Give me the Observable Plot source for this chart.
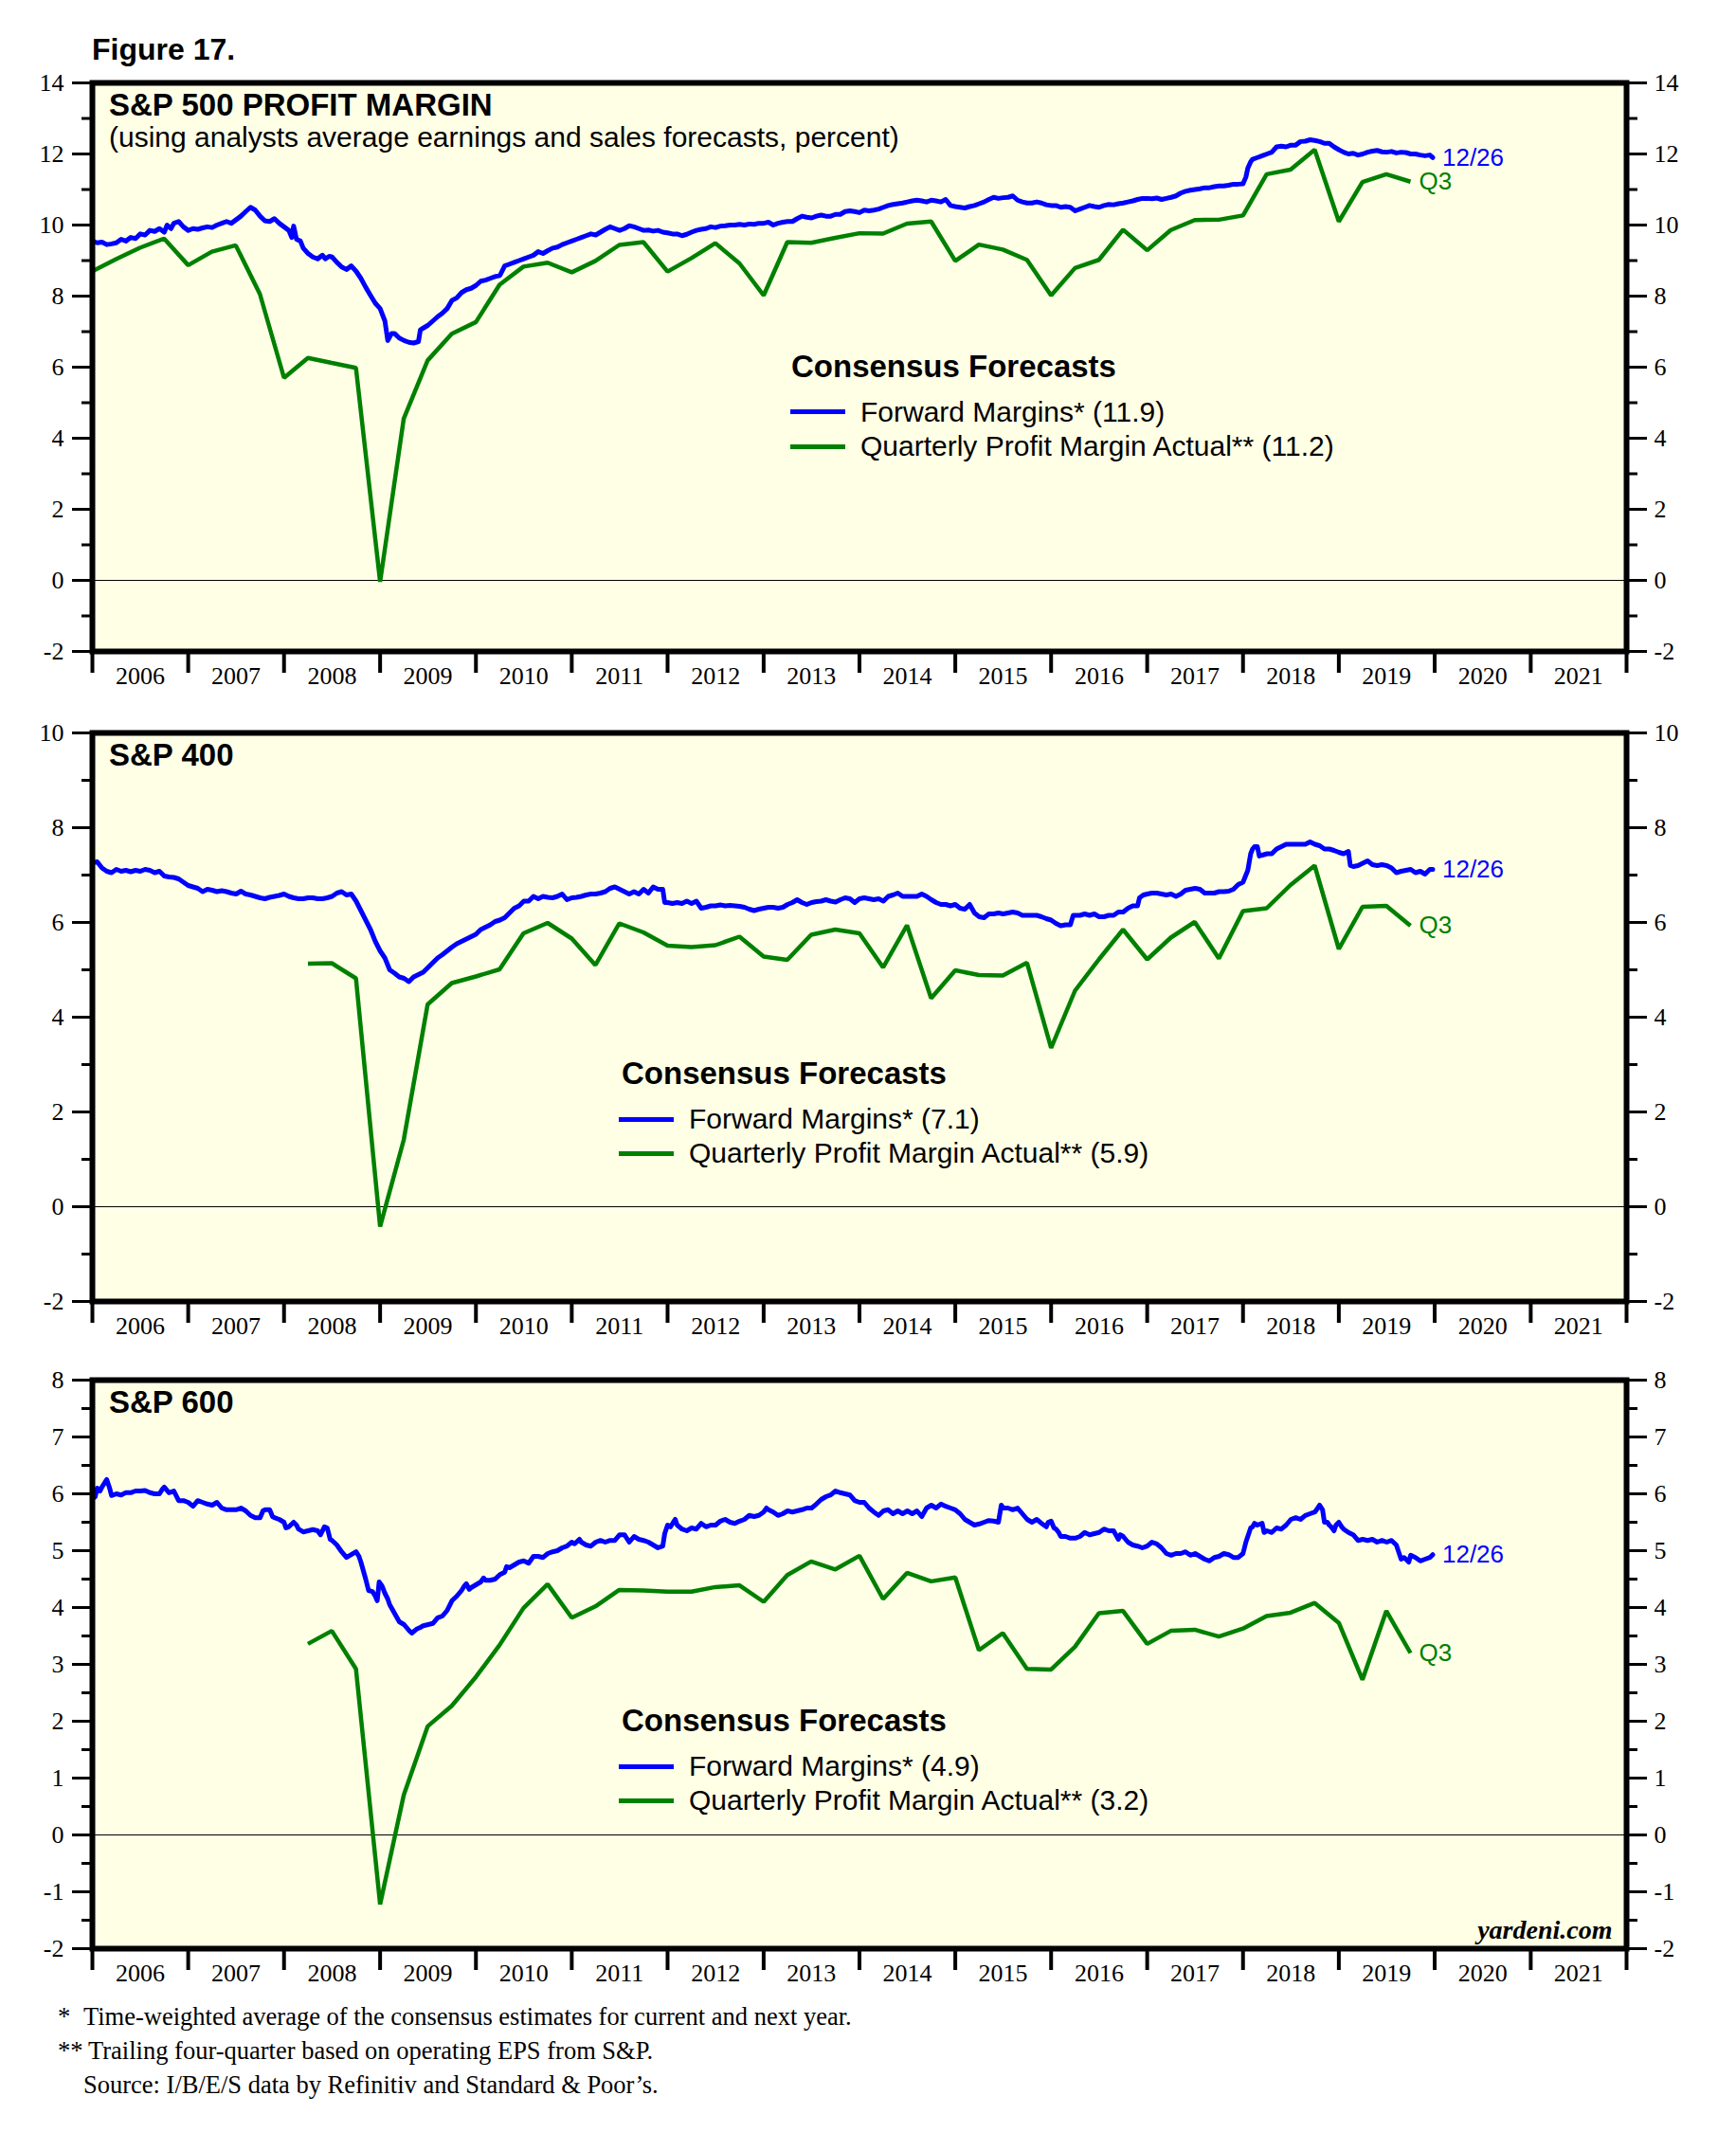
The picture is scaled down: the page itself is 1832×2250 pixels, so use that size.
<!DOCTYPE html>
<html>
<head>
<meta charset="utf-8">
<script src="https://cdn.jsdelivr.net/npm/d3@7"></script>
<script src="https://cdn.jsdelivr.net/npm/@observablehq/plot@0.6"></script>
<style>
  html, body { margin: 0; padding: 0; background: #ffffff; }
  #page { position: relative; width: 1832px; height: 2250px; background: #ffffff; overflow: hidden; }
  #page svg { position: absolute; left: 0; }
  .t { position: absolute; white-space: nowrap; color: #000; }
  .sw { position: absolute; height: 5px; }
</style>
</head>
<body>
<div id="page"></div>
<script>
// ---------------- DATA ----------------
// Forward margins (weekly, read as [decimal year, percent])
const SP500_FWD = [
[2006.0,9.55],[2006.05,9.5],[2006.1,9.52],[2006.15,9.45],[2006.2,9.47],[2006.25,9.5],[2006.3,9.6],[2006.35,9.55],[2006.4,9.65],[2006.45,9.62],
[2006.5,9.75],[2006.55,9.72],[2006.6,9.85],[2006.65,9.82],[2006.7,9.9],[2006.75,9.8],[2006.78,10.0],[2006.82,9.9],[2006.85,10.05],[2006.9,10.1],
[2006.95,9.95],[2007.0,9.85],[2007.05,9.9],[2007.1,9.88],[2007.15,9.92],[2007.2,9.95],[2007.25,9.93],[2007.3,10.0],[2007.35,10.05],[2007.4,10.1],
[2007.45,10.05],[2007.5,10.15],[2007.55,10.25],[2007.6,10.38],[2007.65,10.5],[2007.7,10.42],[2007.75,10.25],[2007.8,10.12],[2007.85,10.1],[2007.9,10.18],
[2007.95,10.05],[2008.0,9.95],[2008.05,9.85],[2008.08,9.65],[2008.1,9.97],[2008.13,9.6],[2008.17,9.55],[2008.2,9.35],[2008.25,9.2],[2008.3,9.1],
[2008.35,9.05],[2008.4,9.15],[2008.43,9.05],[2008.47,9.12],[2008.5,9.1],[2008.55,8.95],[2008.6,8.82],[2008.65,8.75],[2008.7,8.85],[2008.75,8.7],
[2008.8,8.5],[2008.85,8.25],[2008.9,8.02],[2008.95,7.8],[2009.0,7.65],[2009.05,7.3],[2009.08,6.75],[2009.12,6.95],[2009.15,6.95],[2009.2,6.82],
[2009.25,6.75],[2009.3,6.7],[2009.35,6.68],[2009.4,6.72],[2009.42,7.05],[2009.45,7.1],[2009.5,7.18],[2009.55,7.3],[2009.6,7.42],[2009.65,7.52],
[2009.7,7.65],[2009.75,7.88],[2009.8,7.95],[2009.85,8.1],[2009.9,8.18],[2009.95,8.22],[2010.0,8.3],[2010.05,8.42],[2010.1,8.45],[2010.15,8.5],
[2010.2,8.55],[2010.25,8.58],[2010.3,8.85],[2010.35,8.9],[2010.4,8.95],[2010.45,9.0],[2010.5,9.05],[2010.55,9.1],[2010.6,9.15],[2010.65,9.25],
[2010.7,9.2],[2010.75,9.28],[2010.8,9.35],[2010.85,9.38],[2010.9,9.45],[2010.95,9.5],[2011.0,9.55],[2011.05,9.6],[2011.1,9.65],[2011.15,9.7],
[2011.2,9.75],[2011.25,9.72],[2011.3,9.8],[2011.35,9.88],[2011.4,9.95],[2011.45,9.9],[2011.5,9.85],[2011.55,9.9],[2011.6,9.98],[2011.65,9.95],
[2011.7,9.9],[2011.75,9.85],[2011.8,9.86],[2011.85,9.83],[2011.9,9.85],[2011.95,9.8],[2012.0,9.78],[2012.05,9.75],[2012.1,9.75],[2012.15,9.7],
[2012.2,9.74],[2012.25,9.8],[2012.3,9.85],[2012.35,9.88],[2012.4,9.9],[2012.45,9.95],[2012.5,9.93],[2012.55,9.97],[2012.6,9.98],[2012.65,10.0],
[2012.7,10.0],[2012.75,10.02],[2012.8,10.0],[2012.85,10.03],[2012.9,10.02],[2012.95,10.05],[2013.0,10.05],[2013.05,10.08],[2013.1,10.0],[2013.15,10.05],
[2013.2,10.08],[2013.25,10.1],[2013.3,10.1],[2013.35,10.18],[2013.4,10.25],[2013.45,10.22],[2013.5,10.2],[2013.55,10.25],[2013.6,10.28],[2013.65,10.25],
[2013.7,10.25],[2013.75,10.3],[2013.8,10.3],[2013.85,10.38],[2013.9,10.4],[2013.95,10.38],[2014.0,10.35],[2014.05,10.42],[2014.1,10.4],[2014.15,10.42],
[2014.2,10.45],[2014.25,10.5],[2014.3,10.55],[2014.35,10.58],[2014.4,10.6],[2014.45,10.62],[2014.5,10.65],[2014.55,10.68],[2014.6,10.7],[2014.65,10.68],
[2014.7,10.65],[2014.75,10.7],[2014.8,10.68],[2014.85,10.65],[2014.9,10.72],[2014.95,10.55],[2015.0,10.52],[2015.05,10.5],[2015.1,10.48],[2015.15,10.52],
[2015.2,10.55],[2015.25,10.6],[2015.3,10.65],[2015.35,10.72],[2015.4,10.78],[2015.45,10.75],[2015.5,10.77],[2015.55,10.78],[2015.6,10.82],[2015.65,10.7],
[2015.7,10.65],[2015.75,10.62],[2015.8,10.62],[2015.85,10.65],[2015.9,10.62],[2015.95,10.57],[2016.0,10.55],[2016.05,10.55],[2016.1,10.5],[2016.15,10.52],
[2016.2,10.5],[2016.25,10.4],[2016.3,10.45],[2016.35,10.5],[2016.4,10.55],[2016.45,10.52],[2016.5,10.5],[2016.55,10.55],[2016.6,10.58],[2016.65,10.57],
[2016.7,10.6],[2016.75,10.62],[2016.8,10.65],[2016.85,10.68],[2016.9,10.72],[2016.95,10.75],[2017.0,10.75],[2017.05,10.74],[2017.1,10.76],[2017.15,10.72],
[2017.2,10.75],[2017.25,10.78],[2017.3,10.82],[2017.35,10.9],[2017.4,10.95],[2017.45,10.98],[2017.5,11.0],[2017.55,11.02],[2017.6,11.05],[2017.65,11.05],
[2017.7,11.08],[2017.75,11.1],[2017.8,11.1],[2017.85,11.12],[2017.9,11.15],[2017.95,11.15],[2018.0,11.16],[2018.03,11.35],[2018.05,11.6],[2018.08,11.78],
[2018.1,11.85],[2018.15,11.9],[2018.2,11.95],[2018.25,12.0],[2018.3,12.05],[2018.35,12.2],[2018.4,12.22],[2018.45,12.2],[2018.5,12.25],[2018.55,12.25],
[2018.6,12.35],[2018.65,12.36],[2018.7,12.4],[2018.75,12.38],[2018.8,12.35],[2018.85,12.3],[2018.9,12.3],[2018.95,12.2],[2019.0,12.12],[2019.05,12.05],
[2019.1,12.0],[2019.15,12.02],[2019.2,11.97],[2019.25,12.0],[2019.3,12.05],[2019.35,12.08],[2019.4,12.1],[2019.45,12.06],[2019.5,12.05],[2019.55,12.07],
[2019.6,12.03],[2019.65,12.05],[2019.7,12.04],[2019.75,12.0],[2019.8,12.0],[2019.85,11.97],[2019.9,11.95],[2019.95,11.97],[2019.98,11.9]
];
const SP400_FWD = [
[2006.0,7.26],[2006.05,7.28],[2006.1,7.15],[2006.15,7.08],[2006.2,7.05],[2006.25,7.12],[2006.3,7.08],[2006.35,7.1],[2006.4,7.07],[2006.45,7.1],
[2006.5,7.08],[2006.55,7.12],[2006.6,7.1],[2006.65,7.05],[2006.7,7.08],[2006.75,6.98],[2006.8,6.96],[2006.85,6.95],[2006.9,6.92],[2006.95,6.85],
[2007.0,6.78],[2007.05,6.75],[2007.1,6.72],[2007.15,6.65],[2007.2,6.7],[2007.25,6.68],[2007.3,6.65],[2007.35,6.67],[2007.4,6.65],[2007.45,6.62],
[2007.5,6.6],[2007.55,6.66],[2007.6,6.6],[2007.65,6.58],[2007.7,6.55],[2007.75,6.52],[2007.8,6.5],[2007.85,6.53],[2007.9,6.55],[2007.95,6.57],
[2008.0,6.6],[2008.05,6.55],[2008.1,6.52],[2008.15,6.5],[2008.2,6.5],[2008.25,6.52],[2008.3,6.52],[2008.35,6.5],[2008.4,6.5],[2008.45,6.52],
[2008.5,6.55],[2008.55,6.62],[2008.6,6.65],[2008.65,6.58],[2008.7,6.6],[2008.75,6.45],[2008.8,6.25],[2008.85,6.05],[2008.9,5.85],[2008.95,5.6],
[2009.0,5.4],[2009.05,5.25],[2009.1,5.0],[2009.15,4.93],[2009.2,4.85],[2009.25,4.82],[2009.3,4.75],[2009.35,4.85],[2009.4,4.9],[2009.45,4.95],
[2009.5,5.05],[2009.55,5.15],[2009.6,5.25],[2009.65,5.32],[2009.7,5.4],[2009.75,5.48],[2009.8,5.55],[2009.85,5.6],[2009.9,5.65],[2009.95,5.7],
[2010.0,5.75],[2010.05,5.85],[2010.1,5.9],[2010.15,5.95],[2010.2,6.02],[2010.25,6.05],[2010.3,6.1],[2010.35,6.2],[2010.4,6.3],[2010.45,6.35],
[2010.5,6.45],[2010.55,6.45],[2010.6,6.55],[2010.65,6.5],[2010.7,6.55],[2010.75,6.53],[2010.8,6.52],[2010.85,6.55],[2010.9,6.6],[2010.95,6.48],
[2011.0,6.52],[2011.05,6.53],[2011.1,6.55],[2011.15,6.58],[2011.2,6.6],[2011.25,6.6],[2011.3,6.62],[2011.35,6.65],[2011.4,6.72],[2011.45,6.75],
[2011.5,6.7],[2011.55,6.65],[2011.6,6.6],[2011.65,6.65],[2011.7,6.6],[2011.75,6.7],[2011.8,6.62],[2011.85,6.75],[2011.9,6.7],[2011.95,6.7],
[2011.97,6.42],[2012.0,6.42],[2012.05,6.4],[2012.1,6.42],[2012.15,6.4],[2012.2,6.45],[2012.25,6.4],[2012.3,6.45],[2012.35,6.3],[2012.4,6.32],
[2012.45,6.35],[2012.5,6.35],[2012.55,6.37],[2012.6,6.35],[2012.65,6.36],[2012.7,6.35],[2012.75,6.34],[2012.8,6.32],[2012.85,6.28],[2012.9,6.25],
[2012.95,6.28],[2013.0,6.3],[2013.05,6.32],[2013.1,6.32],[2013.15,6.3],[2013.2,6.32],[2013.25,6.38],[2013.3,6.42],[2013.35,6.48],[2013.4,6.42],
[2013.45,6.38],[2013.5,6.42],[2013.55,6.44],[2013.6,6.45],[2013.65,6.48],[2013.7,6.45],[2013.75,6.43],[2013.8,6.48],[2013.85,6.52],[2013.9,6.5],
[2013.95,6.42],[2014.0,6.5],[2014.05,6.52],[2014.1,6.5],[2014.15,6.48],[2014.2,6.5],[2014.25,6.45],[2014.3,6.55],[2014.35,6.58],[2014.4,6.62],
[2014.45,6.55],[2014.5,6.55],[2014.55,6.55],[2014.6,6.55],[2014.65,6.6],[2014.7,6.55],[2014.75,6.48],[2014.8,6.42],[2014.85,6.38],[2014.9,6.38],
[2014.95,6.35],[2015.0,6.38],[2015.05,6.3],[2015.1,6.28],[2015.15,6.38],[2015.2,6.2],[2015.25,6.12],[2015.3,6.1],[2015.35,6.18],[2015.4,6.18],
[2015.45,6.2],[2015.5,6.18],[2015.55,6.2],[2015.6,6.22],[2015.65,6.2],[2015.7,6.15],[2015.75,6.15],[2015.8,6.15],[2015.85,6.15],[2015.9,6.12],
[2015.95,6.08],[2016.0,6.05],[2016.05,5.98],[2016.1,5.93],[2016.15,5.95],[2016.2,5.95],[2016.23,6.15],[2016.3,6.15],[2016.35,6.18],[2016.4,6.15],
[2016.45,6.18],[2016.5,6.12],[2016.55,6.12],[2016.6,6.15],[2016.65,6.15],[2016.7,6.22],[2016.75,6.22],[2016.8,6.3],[2016.85,6.35],[2016.9,6.35],
[2016.92,6.52],[2016.96,6.58],[2017.0,6.6],[2017.05,6.62],[2017.1,6.62],[2017.15,6.6],[2017.2,6.58],[2017.25,6.6],[2017.3,6.55],[2017.35,6.6],
[2017.4,6.68],[2017.45,6.7],[2017.5,6.72],[2017.55,6.7],[2017.6,6.62],[2017.65,6.62],[2017.7,6.62],[2017.75,6.65],[2017.8,6.65],[2017.85,6.66],
[2017.9,6.7],[2017.95,6.8],[2018.0,6.85],[2018.05,7.1],[2018.08,7.45],[2018.1,7.55],[2018.12,7.6],[2018.15,7.6],[2018.17,7.4],[2018.2,7.42],
[2018.25,7.45],[2018.3,7.45],[2018.35,7.55],[2018.4,7.6],[2018.45,7.65],[2018.5,7.65],[2018.55,7.65],[2018.6,7.65],[2018.65,7.65],[2018.7,7.7],
[2018.75,7.65],[2018.8,7.62],[2018.85,7.55],[2018.9,7.55],[2018.95,7.52],[2019.0,7.48],[2019.05,7.45],[2019.1,7.5],[2019.12,7.2],[2019.15,7.18],
[2019.2,7.2],[2019.25,7.25],[2019.3,7.3],[2019.35,7.22],[2019.4,7.2],[2019.45,7.22],[2019.5,7.2],[2019.55,7.15],[2019.6,7.05],[2019.65,7.08],
[2019.7,7.1],[2019.75,7.12],[2019.8,7.05],[2019.85,7.08],[2019.9,7.02],[2019.95,7.12],[2019.98,7.12]
];
const SP600_FWD = [
[2006.0,5.91],[2006.03,5.95],[2006.05,6.1],[2006.08,6.05],[2006.1,6.12],[2006.13,6.2],[2006.15,6.25],[2006.18,6.1],[2006.2,5.97],[2006.25,6.0],
[2006.3,5.98],[2006.35,6.02],[2006.4,6.02],[2006.45,6.05],[2006.5,6.05],[2006.55,6.06],[2006.6,6.02],[2006.65,6.0],[2006.7,6.0],[2006.73,6.08],
[2006.75,6.12],[2006.8,6.02],[2006.85,6.05],[2006.9,5.88],[2006.95,5.88],[2007.0,5.85],[2007.05,5.78],[2007.1,5.88],[2007.15,5.85],[2007.2,5.82],
[2007.25,5.8],[2007.3,5.85],[2007.35,5.75],[2007.4,5.72],[2007.45,5.72],[2007.5,5.72],[2007.55,5.75],[2007.6,5.7],[2007.65,5.62],[2007.7,5.58],
[2007.75,5.58],[2007.78,5.7],[2007.8,5.72],[2007.85,5.72],[2007.88,5.6],[2007.9,5.58],[2007.95,5.55],[2008.0,5.5],[2008.02,5.4],[2008.05,5.42],
[2008.1,5.5],[2008.13,5.45],[2008.15,5.38],[2008.2,5.33],[2008.25,5.35],[2008.3,5.37],[2008.35,5.35],[2008.38,5.28],[2008.42,5.42],[2008.45,5.4],
[2008.48,5.2],[2008.5,5.18],[2008.55,5.1],[2008.6,4.98],[2008.65,4.88],[2008.7,4.93],[2008.75,4.98],[2008.78,4.9],[2008.8,4.8],[2008.85,4.5],
[2008.88,4.3],[2008.92,4.28],[2008.95,4.2],[2008.97,4.12],[2008.99,4.45],[2009.02,4.38],[2009.05,4.25],[2009.08,4.15],[2009.1,4.05],[2009.15,3.9],
[2009.2,3.75],[2009.25,3.7],[2009.3,3.6],[2009.33,3.55],[2009.38,3.62],[2009.42,3.65],[2009.45,3.68],[2009.5,3.7],[2009.55,3.72],[2009.6,3.82],
[2009.65,3.85],[2009.7,3.95],[2009.75,4.12],[2009.8,4.2],[2009.85,4.3],[2009.88,4.38],[2009.9,4.42],[2009.93,4.32],[2009.95,4.35],[2010.0,4.4],
[2010.05,4.45],[2010.08,4.52],[2010.1,4.48],[2010.15,4.48],[2010.2,4.5],[2010.25,4.58],[2010.3,4.62],[2010.32,4.72],[2010.35,4.7],[2010.4,4.75],
[2010.45,4.8],[2010.5,4.82],[2010.55,4.78],[2010.6,4.9],[2010.65,4.9],[2010.7,4.88],[2010.75,4.95],[2010.8,4.98],[2010.85,5.0],[2010.9,5.05],
[2010.95,5.08],[2011.0,5.15],[2011.03,5.12],[2011.08,5.2],[2011.1,5.15],[2011.15,5.1],[2011.2,5.08],[2011.25,5.15],[2011.3,5.18],[2011.35,5.15],
[2011.4,5.18],[2011.45,5.18],[2011.5,5.28],[2011.55,5.28],[2011.6,5.15],[2011.65,5.25],[2011.7,5.2],[2011.75,5.18],[2011.8,5.15],[2011.85,5.1],
[2011.9,5.05],[2011.95,5.08],[2011.97,5.3],[2012.0,5.45],[2012.03,5.42],[2012.06,5.5],[2012.08,5.55],[2012.1,5.45],[2012.15,5.38],[2012.2,5.35],
[2012.25,5.4],[2012.3,5.38],[2012.35,5.48],[2012.4,5.42],[2012.45,5.45],[2012.5,5.45],[2012.55,5.52],[2012.6,5.55],[2012.65,5.5],[2012.7,5.48],
[2012.75,5.52],[2012.8,5.55],[2012.85,5.62],[2012.9,5.6],[2012.95,5.62],[2013.0,5.68],[2013.03,5.75],[2013.05,5.72],[2013.1,5.68],[2013.15,5.62],
[2013.2,5.65],[2013.25,5.7],[2013.3,5.68],[2013.35,5.7],[2013.4,5.72],[2013.45,5.75],[2013.5,5.75],[2013.55,5.82],[2013.6,5.9],[2013.65,5.95],
[2013.7,5.98],[2013.75,6.05],[2013.8,6.02],[2013.85,6.0],[2013.9,5.98],[2013.95,5.88],[2014.0,5.85],[2014.05,5.85],[2014.1,5.75],[2014.15,5.68],
[2014.2,5.62],[2014.25,5.7],[2014.3,5.72],[2014.35,5.65],[2014.4,5.7],[2014.45,5.65],[2014.5,5.7],[2014.55,5.65],[2014.6,5.7],[2014.65,5.6],
[2014.7,5.75],[2014.75,5.8],[2014.8,5.75],[2014.85,5.82],[2014.9,5.78],[2014.95,5.75],[2015.0,5.72],[2015.05,5.65],[2015.1,5.55],[2015.15,5.5],
[2015.2,5.45],[2015.25,5.47],[2015.3,5.5],[2015.35,5.53],[2015.4,5.52],[2015.45,5.5],[2015.48,5.8],[2015.5,5.75],[2015.55,5.75],[2015.6,5.72],
[2015.65,5.75],[2015.7,5.65],[2015.75,5.55],[2015.8,5.5],[2015.85,5.55],[2015.9,5.48],[2015.95,5.42],[2015.97,5.5],[2016.0,5.52],[2016.03,5.4],
[2016.05,5.38],[2016.08,5.32],[2016.1,5.25],[2016.15,5.25],[2016.2,5.22],[2016.25,5.22],[2016.3,5.25],[2016.35,5.32],[2016.4,5.28],[2016.45,5.3],
[2016.5,5.32],[2016.55,5.38],[2016.6,5.35],[2016.65,5.35],[2016.7,5.2],[2016.72,5.28],[2016.75,5.25],[2016.8,5.15],[2016.85,5.1],[2016.9,5.08],
[2016.95,5.05],[2017.0,5.08],[2017.05,5.15],[2017.1,5.12],[2017.15,5.05],[2017.2,4.95],[2017.25,4.92],[2017.3,4.95],[2017.35,4.95],[2017.4,4.98],
[2017.45,4.92],[2017.5,4.95],[2017.55,4.9],[2017.6,4.85],[2017.65,4.82],[2017.7,4.88],[2017.75,4.9],[2017.8,4.95],[2017.85,4.93],[2017.9,4.88],
[2017.95,4.88],[2018.0,4.95],[2018.03,5.15],[2018.05,5.25],[2018.08,5.4],[2018.1,5.42],[2018.12,5.48],[2018.15,5.45],[2018.2,5.48],[2018.22,5.32],
[2018.25,5.35],[2018.3,5.32],[2018.35,5.4],[2018.4,5.38],[2018.45,5.45],[2018.5,5.55],[2018.55,5.58],[2018.6,5.55],[2018.65,5.62],[2018.7,5.65],
[2018.75,5.68],[2018.78,5.75],[2018.8,5.8],[2018.83,5.72],[2018.85,5.5],[2018.88,5.5],[2018.9,5.45],[2018.92,5.42],[2018.95,5.35],[2018.97,5.45],
[2019.0,5.5],[2019.03,5.42],[2019.05,5.38],[2019.1,5.32],[2019.15,5.28],[2019.2,5.18],[2019.25,5.2],[2019.3,5.18],[2019.35,5.2],[2019.4,5.15],
[2019.45,5.18],[2019.5,5.15],[2019.55,5.18],[2019.6,5.1],[2019.63,4.95],[2019.65,4.85],[2019.68,4.88],[2019.7,4.85],[2019.73,4.8],[2019.75,4.92],
[2019.8,4.88],[2019.85,4.82],[2019.9,4.85],[2019.95,4.88],[2019.98,4.93]
];

// Quarterly actual profit margins, 2005Q4 .. 2019Q3 (null = no data)
const QUARTER_START = [2005, 4];
const SP500_ACT = [8.70,9.04,9.36,9.62,8.87,9.25,9.43,8.06,5.70,6.26,6.12,5.98,-0.04,4.55,6.19,6.94,7.27,8.32,8.83,8.94,
  8.67,8.99,9.44,9.52,8.69,9.07,9.49,8.92,8.02,9.52,9.50,9.64,9.77,9.76,10.04,10.10,8.99,9.45,9.31,9.02,
  8.02,8.79,9.02,9.87,9.29,9.86,10.14,10.15,10.27,11.43,11.56,12.12,10.10,11.21,11.43,11.22];
const SP400_ACT = [null,null,null,null,null,null,null,null,null,
  5.13,5.14,4.82,-0.42,1.41,4.27,4.72,4.86,5.01,5.77,5.99,5.66,5.10,5.98,5.79,5.51,5.48,5.52,5.70,5.28,5.21,5.74,5.85,5.77,
  5.05,5.94,4.40,4.99,4.89,4.88,5.15,3.35,4.56,5.22,5.85,5.22,5.68,6.01,5.24,6.24,6.30,6.79,7.20,5.44,6.33,6.35,5.93];
const SP600_ACT = [null,null,null,null,null,null,null,null,null,
  3.36,3.59,2.92,-1.22,0.70,1.91,2.27,2.78,3.34,3.99,4.41,3.82,4.02,4.31,4.30,4.28,4.28,4.36,4.39,4.10,4.57,4.81,4.67,4.91,
  4.15,4.61,4.46,4.53,3.25,3.55,2.92,2.91,3.31,3.90,3.94,3.36,3.59,3.61,3.49,3.63,3.85,3.91,4.08,3.73,2.73,3.94,3.20];

// Axis ticks
const YEARS = [2006,2007,2008,2009,2010,2011,2012,2013,2014,2015,2016,2017,2018,2019,2020,2021];
const P1_MAJOR = [-2,0,2,4,6,8,10,12,14], P1_MINOR = [-1,1,3,5,7,9,11,13];
const P2_MAJOR = [-2,0,2,4,6,8,10], P2_MINOR = [-1,1,3,5,7,9];
const P3_MAJOR = [-2,-1,0,1,2,3,4,5,6,7,8], P3_MINOR = [-1.5,-0.5,0.5,1.5,2.5,3.5,4.5,5.5,6.5,7.5];

// ---------------- HELPERS ----------------
const BLUE = "#0000ff", GREEN = "#008000", BG = "#ffffe6";
const SANS = "'Liberation Sans', Arial, Helvetica, sans-serif";
const SERIF = "'Liberation Serif', 'Times New Roman', Times, serif";

function toDate(t) {
  const y = Math.floor(t);
  const a = Date.UTC(y, 0, 1), b = Date.UTC(y + 1, 0, 1);
  return new Date(a + (t - y) * (b - a));
}
function quarterDates(n) {
  const out = [];
  let y = QUARTER_START[0], q = QUARTER_START[1];
  for (let i = 0; i < n; i++) {
    out.push(new Date(Date.UTC(y, 3 * q, 1)));
    q++; if (q > 4) { q = 1; y++; }
  }
  return out;
}

const W = 1832, PH = 600, MT = 20, MB = 60, ML = 97, MR = 116;
const page = document.getElementById("page");
const AX = {fontFamily: SERIF, fontSize: 26, fill: "#000", label: null};

function panel(top, fwdRaw, actRaw, yDomain, major, minor, extra) {
  const fwd = fwdRaw.map(([t, v]) => ({date: toDate(t), value: v}));
  const qd = quarterDates(actRaw.length);
  const act = actRaw.map((v, i) => ({date: qd[i], value: v}));
  const lastFwd = fwd[fwd.length - 1];
  const lastAct = act[act.length - 1];
  const yearStarts = YEARS.map(y => new Date(Date.UTC(y, 0, 1))).concat([new Date(Date.UTC(YEARS[YEARS.length-1] + 1, 0, 1))]);
  const yearMids = YEARS.map(y => new Date(Date.UTC(y, 6, 2)));
  const tf = d => String(d);
  const marks = [
    Plot.frame({fill: BG, stroke: null}),
    Plot.ruleY([0], {stroke: "#000", strokeWidth: 1.2}),
    Plot.line(act, {x: "date", y: "value", stroke: GREEN, strokeWidth: 4.5, strokeLinejoin: "miter", strokeLinecap: "butt"}),
    Plot.line(fwd, {x: "date", y: "value", stroke: BLUE, strokeWidth: 5, strokeLinejoin: "round", strokeLinecap: "round"}),
    Plot.text([lastFwd], {x: "date", y: "value", text: () => "12/26", dx: 10, textAnchor: "start", fill: BLUE, fontFamily: SANS, fontSize: 26}),
    Plot.text([lastAct], {x: "date", y: "value", text: () => "Q3", dx: 9, textAnchor: "start", fill: GREEN, fontFamily: SANS, fontSize: 26}),
    Plot.axisY({...AX, anchor: "left", ticks: major, tickSize: 21, tickPadding: 9, tickFormat: tf, strokeWidth: 3}),
    Plot.axisY({...AX, anchor: "left", ticks: minor, tickSize: 11, tickFormat: () => "", strokeWidth: 3}),
    Plot.axisY({...AX, anchor: "right", ticks: major, tickSize: 21, tickPadding: 8, tickFormat: tf, strokeWidth: 3}),
    Plot.axisY({...AX, anchor: "right", ticks: minor, tickSize: 11, tickFormat: () => "", strokeWidth: 3}),
    Plot.axisX({...AX, anchor: "bottom", ticks: yearStarts, tickSize: 23, tickFormat: () => "", strokeWidth: 4}),
    Plot.axisX({...AX, anchor: "bottom", ticks: yearMids, tickSize: 0, tickPadding: 16, tickFormat: d => String(d.getUTCFullYear())}),
    ...(extra || []),
    Plot.frame({stroke: "#000", strokeWidth: 6})
  ];
  const svg = Plot.plot({
    width: W, height: MT + PH + MB,
    marginLeft: ML, marginRight: MR, marginTop: MT, marginBottom: MB,
    x: {type: "utc", domain: [yearStarts[0], yearStarts[yearStarts.length - 1]], label: null},
    y: {domain: yDomain, label: null},
    style: {fontFamily: SERIF, fontSize: "26px", background: "transparent", overflow: "visible", color: "#000"},
    marks
  });
  svg.style.top = (top - MT) + "px";
  page.appendChild(svg);
}

// HTML text placed by baseline
function put(text, x, baseline, opts) {
  const o = Object.assign({size: 30, family: SANS, weight: "normal", style: "normal", color: "#000", k: 0.8465}, opts || {});
  const d = document.createElement("div");
  d.className = "t";
  d.textContent = text;
  d.style.left = x + "px";
  d.style.top = (baseline - o.k * o.size) + "px";
  d.style.fontSize = o.size + "px";
  d.style.lineHeight = o.size + "px";
  d.style.fontFamily = o.family;
  d.style.fontWeight = o.weight;
  d.style.fontStyle = o.style;
  d.style.color = o.color;
  page.appendChild(d);
}
function swatch(x1, x2, y, color) {
  const d = document.createElement("div");
  d.className = "sw";
  d.style.left = x1 + "px";
  d.style.width = (x2 - x1) + "px";
  d.style.top = (y - 2.5) + "px";
  d.style.background = color;
  page.appendChild(d);
}
function legend(top, consX, lineX1, lineX2, textX, fwdVal, actVal, off) {
  put("Consensus Forecasts", consX, top + off[0], {size: 33, weight: "bold"});
  swatch(lineX1, lineX2, top + off[1], BLUE);
  put("Forward Margins* (" + fwdVal + ")", textX, top + off[2], {size: 30});
  swatch(lineX1, lineX2, top + off[3], GREEN);
  put("Quarterly Profit Margin Actual** (" + actVal + ")", textX, top + off[4], {size: 30});
}

// ---------------- BUILD ----------------
const TOPS = [87, 773, 1456];

panel(TOPS[0], SP500_FWD, SP500_ACT, [-2, 14], P1_MAJOR, P1_MINOR);
panel(TOPS[1], SP400_FWD, SP400_ACT, [-2, 10], P2_MAJOR, P2_MINOR);
panel(TOPS[2], SP600_FWD, SP600_ACT, [-2, 8], P3_MAJOR, P3_MINOR, [
  Plot.text(["yardeni.com"], {frameAnchor: "bottom-right", dx: -15, dy: -11, lineAnchor: "bottom", text: d => d,
    fontFamily: SERIF, fontSize: 28, fontWeight: "bold", fontStyle: "italic", fill: "#000"})
]);

put("Figure 17.", 97, 63, {size: 32, weight: "bold"});
put("S&P 500 PROFIT MARGIN", 115, TOPS[0] + 35, {size: 33, weight: "bold"});
put("(using analysts average earnings and sales forecasts, percent)", 115, TOPS[0] + 68, {size: 30});
put("S&P 400", 115, TOPS[1] + 35, {size: 33, weight: "bold"});
put("S&P 600", 115, TOPS[2] + 35, {size: 33, weight: "bold"});

legend(TOPS[0], 835, 834, 892, 908, SP500_FWD[SP500_FWD.length-1][1].toFixed(1), SP500_ACT[SP500_ACT.length-1].toFixed(1), [311, 347.5, 358.5, 384, 394.5]);
legend(TOPS[1], 656, 653, 711, 727, SP400_FWD[SP400_FWD.length-1][1].toFixed(1), SP400_ACT[SP400_ACT.length-1].toFixed(1), [371, 408, 418.5, 444, 454.5]);
legend(TOPS[2], 656, 653, 711, 727, SP600_FWD[SP600_FWD.length-1][1].toFixed(1), SP600_ACT[SP600_ACT.length-1].toFixed(1), [371, 408, 418.5, 444, 454.5]);

const SER = {size: 26.5, family: SERIF, k: 0.8375};
put("*", 61, 2137, SER);
put("Time-weighted average of the consensus estimates for current and next year.", 88, 2137, SER);
put("**", 61, 2173, SER);
put("Trailing four-quarter based on operating EPS from S&P.", 93, 2173, SER);
put("Source: I/B/E/S data by Refinitiv and Standard & Poor\u2019s.", 88, 2209, SER);
</script>
</body>
</html>
